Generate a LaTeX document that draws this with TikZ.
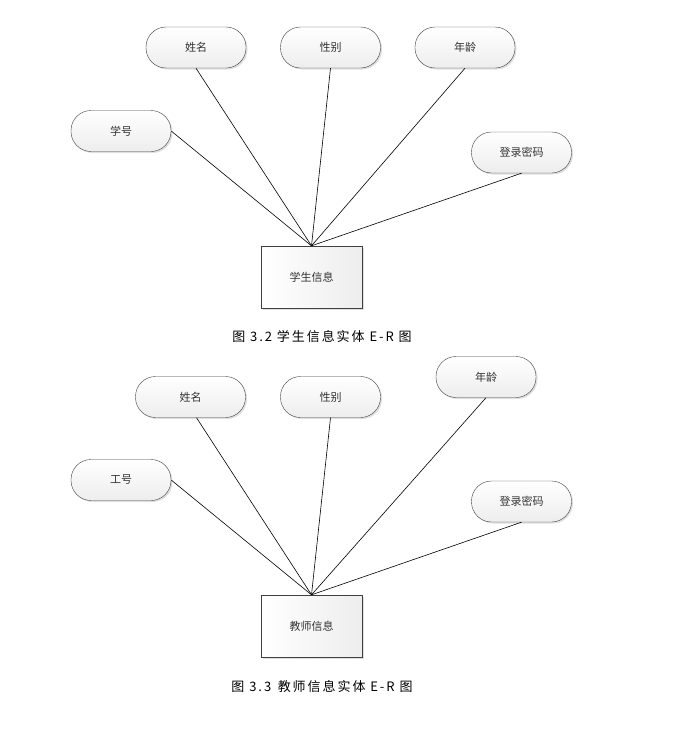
\documentclass[tikz,border=0pt]{standalone}
\usepackage{fontspec}
\setmainfont{Noto Sans CJK SC}
\newfontfamily\capfont[LetterSpace=15]{Noto Sans CJK SC}
\usetikzlibrary{positioning, shadows, calc}

\begin{document}
\begin{tikzpicture}[x=1pt, y=-1pt,
    attr/.style={draw=black!75, rounded corners=20pt, minimum width=100pt, minimum height=41pt,
        top color=white, bottom color=gray!14,
        drop shadow={shadow xshift=1.5pt, shadow yshift=-1.5pt, opacity=0.25},
        font=\fontsize{11}{13}\selectfont, text=black!80},
    entity/.style={draw=black!75, minimum width=101pt, minimum height=62pt,
        left color=white, right color=gray!14,
        drop shadow={shadow xshift=1.5pt, shadow yshift=-1.5pt, opacity=0.25},
        font=\fontsize{11}{13}\selectfont, text=black!80},
    caption/.style={font=\capfont\fontsize{13}{15}\selectfont},
    link/.style={draw=black, line width=0.6pt}]
    \useasboundingbox (0,0) rectangle (686,739);

    % 学生信息
    \node[entity] (stu) at (311.5, 277) {学生信息};
    \node[attr] (stuName) at (196, 47.5) {姓名};
    \node[attr] (stuSex) at (330.5, 47.5) {性别};
    \node[attr] (stuAge) at (465, 47.5) {年龄};
    \node[attr] (stuId) at (121, 131) {学号};
    \node[attr] (stuPwd) at (521.5, 152.5) {登录密码};
    \draw[link] (stuId.east) -- (stu.north);
    \draw[link] (stuName.south) -- (stu.north);
    \draw[link] (stuSex.south) -- (stu.north);
    \draw[link] (stuAge.south) -- (stu.north);
    \draw[link] (stuPwd.south) -- (stu.north);
    \node[caption] (cap1) at (322, 337) {图 3.2 学生信息实体 E-R 图};

    % 教师信息
    \node[entity] (tea) at (311.5, 626) {教师信息};
    \node[attr, minimum width=110pt] (teaName) at (190.5, 397) {姓名};
    \node[attr] (teaSex) at (330.5, 397) {性别};
    \node[attr] (teaAge) at (486, 377) {年龄};
    \node[attr] (teaId) at (121, 480) {工号};
    \node[attr] (teaPwd) at (521.5, 501.5) {登录密码};
    \draw[link] (teaId.east) -- (tea.north);
    \draw[link] ([xshift=6pt]teaName.south) -- (tea.north);
    \draw[link] (teaSex.south) -- (tea.north);
    \draw[link] (teaAge.south) -- (tea.north);
    \draw[link] (teaPwd.south) -- (tea.north);
    \node[caption] (cap2) at (322, 687) {图 3.3\enspace 教师信息实体 E-R 图};
\end{tikzpicture}
\end{document}
